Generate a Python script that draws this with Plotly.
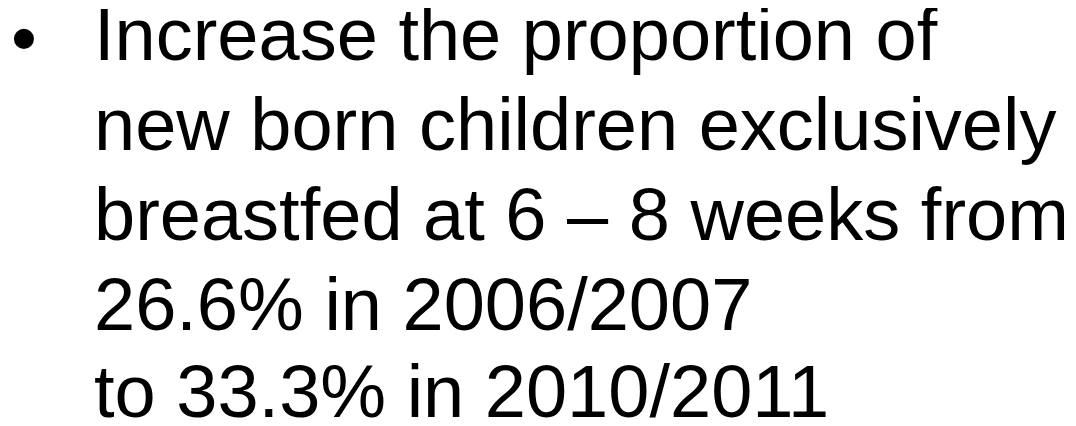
import plotly.graph_objects as go

# Slide content
bullet_lines = [
    "Increase the proportion of",
    "new born children exclusively",
    "breastfed at 6 \u2013 8 weeks from",
    "26.6% in 2006/2007",
    "to 33.3% in 2010/2011",
]
baseline_px = [62, 152, 242, 332, 419]

W, H = 1076, 426
FONT_SIZE = 74
FONT = "Liberation Sans, Arial, sans-serif"
TEXT_X = 84
BULLET_CX = 16
V_SHIFT = -10

fig = go.Figure()
# invisible trace to set up axes
fig.add_trace(go.Scatter(x=[0, W], y=[0, H], mode="markers",
                         marker=dict(opacity=0), hoverinfo="skip", showlegend=False))

annotations = []
for i, (line, base) in enumerate(zip(bullet_lines, baseline_px)):
    center = base - 0.3465 * FONT_SIZE + V_SHIFT
    annotations.append(dict(
        x=TEXT_X, y=center, xref="x", yref="y", text=line, showarrow=False,
        xanchor="left", yanchor="middle",
        font=dict(family=FONT, size=FONT_SIZE, color="#000000"),
    ))
    if i == 0:
        annotations.append(dict(
            x=BULLET_CX, y=center + 4, xref="x", yref="y", text="\u2022", showarrow=False,
            xanchor="center", yanchor="middle",
            font=dict(family=FONT, size=FONT_SIZE, color="#000000"),
        ))

fig.update_layout(
    width=W, height=H,
    margin=dict(l=0, r=0, t=0, b=0),
    paper_bgcolor="white", plot_bgcolor="white",
    xaxis=dict(range=[0, W], visible=False, fixedrange=True),
    yaxis=dict(range=[H, 0], visible=False, fixedrange=True),
    annotations=annotations,
    showlegend=False,
)

fig.write_html("out.html", config={"displayModeBar": False})
